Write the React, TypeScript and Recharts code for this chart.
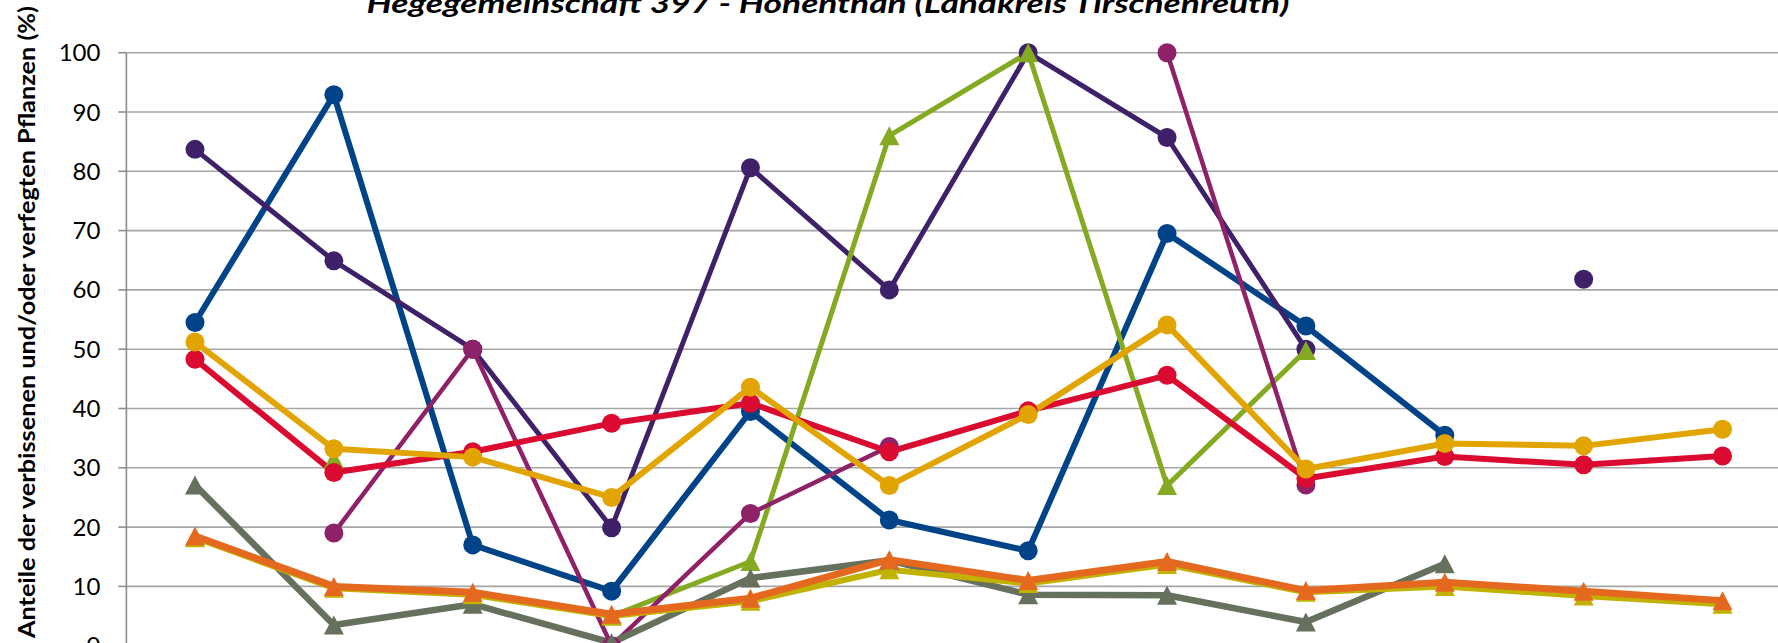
import React from 'react';
import { LineChart, Line, XAxis, YAxis, CartesianGrid } from 'recharts';

// Erhebungsjahre (Achsenbeschriftung liegt ausserhalb des Ausschnitts)
const years = ['1991', '1994', '1997', '2000', '2003', '2006', '2009', '2012', '2015', '2018', '2021', '2024'];
const yTicks = [0, 10, 20, 30, 40, 50, 60, 70, 80, 90, 100];

// Werte in %, null = keine Aufnahme
const blau = [54.5, 92.9, 17.0, 9.2, 39.5, 21.2, 16.0, 69.5, 53.9, 35.5, null, null];
const violett = [83.7, 64.9, 50.0, 19.9, 80.6, 60.0, 100, 85.7, 50.0, null, 61.8, null];
const magenta = [null, 19.0, 50.0, 0, 22.3, 33.6, null, 100, 27.1, null, null, null];
const gruen = [null, 31.5, null, 5.0, 14.2, 86.0, 100, 27.0, 49.8, null, null, null];
const rot = [48.3, 29.2, 32.7, 37.5, 40.9, 32.7, 39.6, 45.6, 28.2, 31.9, 30.5, 32.0];
const gold = [51.2, 33.2, 31.8, 25.0, 43.6, 27.0, 39.0, 54.1, 29.8, 34.1, 33.7, 36.5];
const grau = [27.1, 3.5, 7.0, 0.5, 11.4, 14.4, 8.6, 8.5, 4.0, 13.8, null, null];
const oliv = [18.2, 9.7, 8.6, 5.0, 7.5, 12.8, 10.5, 13.7, 9.0, 10.0, 8.4, 7.0];
const orange = [18.5, 10.0, 9.0, 5.3, 8.0, 14.5, 11.0, 14.2, 9.3, 10.7, 9.2, 7.6];

const data = years.map((year, i) => ({
  year,
  blau: blau[i],
  violett: violett[i],
  magenta: magenta[i],
  gruen: gruen[i],
  rot: rot[i],
  gold: gold[i],
  grau: grau[i],
  oliv: oliv[i],
  orange: orange[i],
}));

const series = [
  { key: 'blau', color: '#004388', width: 6, marker: 'circle' },
  { key: 'violett', color: '#3f2169', width: 5, marker: 'circle' },
  { key: 'gruen', color: '#84aa22', width: 5, marker: 'triangle' },
  { key: 'magenta', color: '#8e2168', width: 4.5, marker: 'circle' },
  { key: 'rot', color: '#da0a30', width: 6, marker: 'circle' },
  { key: 'gold', color: '#e1a400', width: 6, marker: 'circle' },
  { key: 'grau', color: '#65705d', width: 6.5, marker: 'triangle' },
  { key: 'oliv', color: '#c2b200', width: 6, marker: 'triangle' },
  { key: 'orange', color: '#e4691f', width: 7, marker: 'triangle' },
];

const makeDot = (marker: string, color: string) => (props: any) => {
  const { cx, cy, value, index } = props;
  if (value == null || cx == null || cy == null || isNaN(cy)) return <g key={index} />;
  if (marker === 'circle') {
    return <circle key={index} cx={cx} cy={cy} r={9.5} fill={color} stroke="none" />;
  }
  const h = 9.5;
  return (
    <path
      key={index}
      d={`M${cx},${cy - h} L${cx + 10},${cy + h} L${cx - 10},${cy + h} Z`}
      fill={color}
      stroke="none"
    />
  );
};

export default function App() {
  return (
    <div style={{ position: 'fixed', left: 0, top: 0, width: 1778, height: 643, overflow: 'hidden', background: '#fff' }}>
      <div style={{ position: 'absolute', left: 0, top: 0 }}>
        <LineChart
          width={1800}
          height={700}
          data={data}
          margin={{ top: 52.7, right: 14, bottom: 54.3, left: 0 }}
        >
          <CartesianGrid vertical={false} stroke="#a6a6a6" strokeWidth={1.6} />
          <XAxis dataKey="year" hide padding={{ left: 68.6, right: 63.5 }} />
          <YAxis
            width={126.4}
            domain={[0, 100]}
            ticks={yTicks}
            interval={0}
            axisLine={{ stroke: '#8c8c8c', strokeWidth: 1.6 }}
            tickLine={{ stroke: '#8c8c8c', strokeWidth: 1.6 }}
            tickSize={8}
            tickMargin={18}
            tick={{ fill: '#000', fontSize: 24, fontFamily: 'Lato' }}
          />
          {series.map((s) => (
            <Line
              key={s.key}
              type="linear"
              dataKey={s.key}
              stroke={s.color}
              strokeWidth={s.width}
              strokeLinejoin="round"
              dot={makeDot(s.marker, s.color)}
              activeDot={false}
              isAnimationActive={false}
            />
          ))}
        </LineChart>
      </div>
      <svg
        width={1778}
        height={643}
        style={{ position: 'absolute', left: 0, top: 0, pointerEvents: 'none' }}
      >
        <text
          x={828}
          y={13}
          textAnchor="middle"
          fontFamily="Lato"
          fontWeight="bold"
          fontStyle="italic"
          fontSize={27}
          textLength={923}
          lengthAdjust="spacingAndGlyphs"
          fill="#000"
        >
          Hegegemeinschaft 397 - Hohenthan (Landkreis Tirschenreuth)
        </text>
        <text
          transform="translate(35,322) rotate(-90)"
          textAnchor="middle"
          fontFamily="Lato"
          fontWeight="bold"
          fontSize={23}
          textLength={632}
          lengthAdjust="spacingAndGlyphs"
          fill="#000"
        >
          Anteile der verbissenen und/oder verfegten Pflanzen (%)
        </text>
      </svg>
    </div>
  );
}
